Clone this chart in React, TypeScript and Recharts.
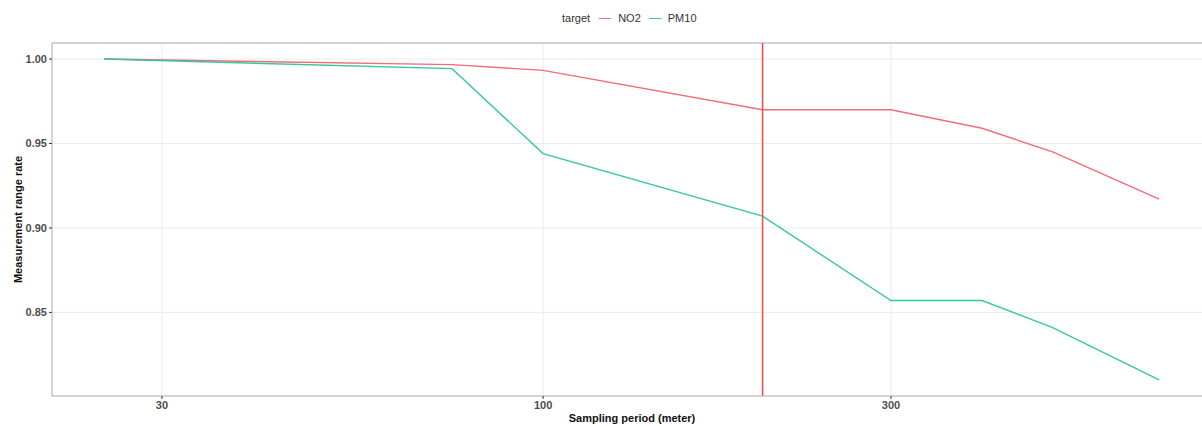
import React from "react";
import {
  LineChart,
  Line,
  XAxis,
  YAxis,
  CartesianGrid,
  ReferenceLine,
} from "recharts";

const periods = [25, 75, 100, 200, 300, 400, 500, 700];
const no2Rates = [1.0, 0.9967, 0.9933, 0.97, 0.97, 0.959, 0.945, 0.917];
const pm10Rates = [1.0, 0.9943, 0.944, 0.907, 0.857, 0.857, 0.841, 0.81];
const xTicks = [30, 100, 300];
const yTicks = [0.85, 0.9, 0.95, 1.0];
const cutoff = 200;

const X_DOMAIN: [number, number] = [21.2, 827];
const Y_DOMAIN: [number, number] = [0.8005, 1.0095];

const SERIES = [
  { key: "NO2", color: "#f06c78" },
  { key: "PM10", color: "#36c79e" },
];

const FONT = '"Liberation Sans", Arial, Helvetica, sans-serif';

const data = periods.map((x, i) => ({ x, NO2: no2Rates[i], PM10: pm10Rates[i] }));

// legend sits above the panel, outside the plot layout
function TargetLegend(): React.ReactElement {
  return (
    <div
      style={{
        position: "absolute",
        top: 12,
        left: 562,
        display: "flex",
        alignItems: "center",
        fontFamily: FONT,
        fontSize: 11,
        color: "#333",
        whiteSpace: "nowrap",
        lineHeight: "13px",
      }}
    >
      <span style={{ marginRight: 9 }}>target</span>
      {SERIES.map((s) => (
        <span key={s.key} style={{ display: "flex", alignItems: "center", marginRight: 8 }}>
          <span
            style={{ display: "inline-block", width: 12, height: 1.5, background: s.color, marginRight: 7 }}
          />
          {s.key}
        </span>
      ))}
    </div>
  );
}

function YLabel(props: any): React.ReactElement {
  const vb = props.viewBox || { y: 0, height: 0 };
  const cy = vb.y + vb.height / 2;
  return (
    <text
      x={18}
      y={cy}
      transform={`rotate(-90, 18, ${cy})`}
      textAnchor="middle"
      dominantBaseline="central"
      style={{ fontFamily: FONT, fontSize: 11, fontWeight: "bold", fill: "#111" }}
    >
      Measurement range rate
    </text>
  );
}

export default function App(): React.ReactElement {
  const tickStyle = { fontSize: 11, fill: "#4d4d4d", fontFamily: FONT, fontWeight: "bold" as const };
  return (
    <div
      style={{
        position: "absolute",
        left: 0,
        top: 0,
        width: 1202,
        height: 426,
        overflow: "hidden",
        background: "#fff",
      }}
    >
      <TargetLegend />
      <LineChart width={1230} height={426} data={data} margin={{ top: 43, right: 18, bottom: 0, left: 0 }}>
        <CartesianGrid stroke="#ebebeb" strokeWidth={1} />
        <XAxis
          dataKey="x"
          type="number"
          scale="log"
          domain={X_DOMAIN}
          ticks={xTicks}
          allowDataOverflow
          height={30}
          tick={tickStyle}
          tickLine={{ stroke: "#333" }}
          tickSize={3}
          axisLine={{ stroke: "#b3b3b3" }}
          label={{
            value: "Sampling period (meter)",
            position: "insideBottom",
            offset: 4,
            style: { fontFamily: FONT, fontSize: 11, fontWeight: "bold", fill: "#111" },
          }}
        />
        <YAxis
          type="number"
          domain={Y_DOMAIN}
          ticks={yTicks}
          allowDataOverflow
          width={52}
          tick={tickStyle}
          tickFormatter={(v: number) => v.toFixed(2)}
          tickLine={{ stroke: "#333" }}
          tickSize={3}
          axisLine={{ stroke: "#b3b3b3" }}
          label={{ content: YLabel }}
        />
        <ReferenceLine y={Y_DOMAIN[1]} stroke="#b3b3b3" strokeWidth={1} />
        {SERIES.map((s) => (
          <Line
            key={s.key}
            type="linear"
            dataKey={s.key}
            stroke={s.color}
            strokeWidth={1.4}
            dot={false}
            isAnimationActive={false}
          />
        ))}
        <ReferenceLine x={cutoff} stroke="#f54848" strokeWidth={1.5} />
      </LineChart>
    </div>
  );
}
